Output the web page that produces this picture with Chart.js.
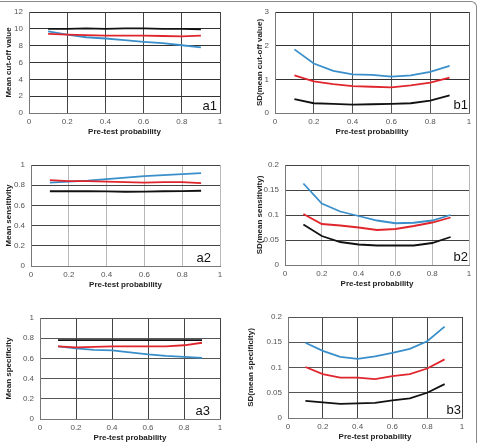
<!DOCTYPE html>
<html>
<head>
<meta charset="utf-8">
<script src="https://cdn.jsdelivr.net/npm/chart.js@4/dist/chart.umd.min.js"></script>
<style>
    html, body { margin: 0; padding: 0; background: #fff; }
    #wrap { position: relative; width: 481px; height: 443px; overflow: hidden; }
    #frame {
        position: absolute; left: -10px; top: 1px; width: 487px; height: 460px;
        border-top: 1px solid #888; border-right: 1px solid #888;
        border-top-right-radius: 6px; box-sizing: border-box;
    }
    canvas { position: absolute; }
</style>
</head>
<body>
<div id="wrap">
    <div id="frame"></div>
</div>
<script>
// Ось X - вероятность до теста
const pretest = [0.1, 0.2, 0.3, 0.4, 0.5, 0.6, 0.7, 0.8, 0.9];

// a1 - средний порог
const a1Black = [10, 10, 10.05, 10, 10.05, 10.05, 10, 10, 9.95];
const a1Red = [9.4, 9.3, 9.25, 9.2, 9.2, 9.2, 9.15, 9.1, 9.2];
const a1Blue = [9.7, 9.3, 9.0, 8.85, 8.65, 8.45, 8.3, 8.05, 7.8];

// b1 - SD порога
const b1Blue = [1.89, 1.47, 1.25, 1.15, 1.13, 1.08, 1.12, 1.22, 1.40];
const b1Red = [1.12, 0.94, 0.86, 0.80, 0.78, 0.76, 0.82, 0.90, 1.05];
const b1Black = [0.41, 0.29, 0.27, 0.25, 0.26, 0.27, 0.29, 0.37, 0.52];

// a2 - средняя чувствительность
const a2Blue = [0.825, 0.835, 0.845, 0.86, 0.875, 0.89, 0.90, 0.91, 0.92];
const a2Red = [0.85, 0.84, 0.84, 0.835, 0.83, 0.825, 0.83, 0.83, 0.82];
const a2Black = [0.74, 0.74, 0.74, 0.738, 0.735, 0.737, 0.74, 0.742, 0.745];

// b2 - SD чувствительности
const b2Blue = [0.163, 0.123, 0.107, 0.098, 0.089, 0.0835, 0.0845, 0.089, 0.1];
const b2Red = [0.102, 0.082, 0.079, 0.075, 0.070, 0.072, 0.078, 0.085, 0.095];
const b2Black = [0.081, 0.058, 0.046, 0.041, 0.039, 0.039, 0.039, 0.044, 0.056];

// a3 - средняя специфичность
const a3Black = [0.78, 0.78, 0.78, 0.78, 0.78, 0.78, 0.78, 0.78, 0.78];
const a3Red = [0.72, 0.71, 0.715, 0.72, 0.72, 0.72, 0.72, 0.73, 0.755];
const a3Blue = [0.72, 0.70, 0.685, 0.68, 0.66, 0.64, 0.625, 0.615, 0.605];

// b3 - SD специфичности
const b3Blue = [0.149, 0.133, 0.121, 0.117, 0.122, 0.129, 0.137, 0.152, 0.181];
const b3Red = [0.101, 0.087, 0.080, 0.080, 0.077, 0.083, 0.087, 0.098, 0.116];
const b3Black = [0.034, 0.031, 0.028, 0.029, 0.030, 0.035, 0.039, 0.050, 0.067];

const xTicks = [0, 0.2, 0.4, 0.6, 0.8, 1];

const BLUE = '#3a8fca';
const RED = '#e0262c';
const BLACK = '#111111';

// Панели: положение холста, область графика, подписи
const panels = [
    { id: 'a1', x: 0, y: 0, w: 240, h: 148, plot: [29, 12, 220, 113], yTitleX: 9, xTitleY: 132,
      label: [217, 110], yTitle: 'Mean cut-off value', yMax: 12, yStep: 2, yDec: 0,
      series: [a1Black, a1Red, a1Blue], xGrid: '#444', yGrid: '#333' },
    { id: 'b1', x: 240, y: 0, w: 241, h: 148, plot: [35, 12, 229, 113], yTitleX: 20, xTitleY: 132,
      label: [228, 109], yTitle: 'SD(mean cut-off value)', yMax: 3, yStep: 1, yDec: 0,
      series: [b1Black, b1Red, b1Blue], xGrid: '#555', yGrid: '#333' },
    { id: 'a2', x: 0, y: 148, w: 240, h: 148, plot: [31, 17, 220, 118], yTitleX: 9, xTitleY: 137,
      label: [211, 114], yTitle: 'Mean sensitivity', yMax: 1, yStep: 0.2, yDec: 1,
      series: [a2Black, a2Red, a2Blue], xGrid: '#b8b8b8', yGrid: '#444' },
    { id: 'b2', x: 240, y: 148, w: 241, h: 148, plot: [45, 17, 229, 117], yTitleX: 20, xTitleY: 136,
      label: [228, 113], yTitle: 'SD(mean sensitivity)', yMax: 0.2, yStep: 0.05, yDec: 2,
      series: [b2Black, b2Red, b2Blue], xGrid: '#b8b8b8', yGrid: '#444' },
    { id: 'a3', x: 0, y: 296, w: 240, h: 147, plot: [40, 22, 220, 123], yTitleX: 9, xTitleY: 142,
      label: [210, 119], yTitle: 'Mean specificity', yMax: 1, yStep: 0.2, yDec: 1,
      series: [a3Black, a3Red, a3Blue], xGrid: '#444', yGrid: '#555' },
    { id: 'b3', x: 240, y: 296, w: 241, h: 147, plot: [48, 21, 222, 122], yTitleX: 11, xTitleY: 141,
      label: [221, 118], yTitle: 'SD(mean specificity)', yMax: 0.2, yStep: 0.05, yDec: 2,
      series: [b3Black, b3Red, b3Blue], xGrid: '#444', yGrid: '#555' }
];

const TITLE_LH = 9.6;

// Подпись панели (a1, b1, ...) в правом нижнем углу
const panelLabel = {
    id: 'panelLabel',
    afterDraw(chart, args, opts) {
        const ctx = chart.ctx;
        ctx.save();
        ctx.font = '13px "Liberation Sans", Arial, sans-serif';
        ctx.fillStyle = '#111';
        ctx.textAlign = 'right';
        ctx.textBaseline = 'alphabetic';
        ctx.fillText(opts.text, opts.x, opts.y);
        ctx.restore();
    }
};

function fmt(v, dec) {
    if (v === 0) return '0';
    if (dec === 0) return String(Math.round(v));
    let s = v.toFixed(dec);
    s = s.replace(/0+$/, '').replace(/\.$/, '');
    return s;
}

const wrap = document.querySelector('#wrap');

panels.forEach(p => {
    const canvas = document.createElement('canvas');
    canvas.style.left = p.x + 'px';
    canvas.style.top = p.y + 'px';
    canvas.style.width = p.w + 'px';
    canvas.style.height = p.h + 'px';
    canvas.width = p.w;
    canvas.height = p.h;
    wrap.appendChild(canvas);

    const [l, t, r, b] = p.plot;
    const padLeft = p.yTitleX - TITLE_LH / 2;
    const axisBottom = p.xTitleY + TITLE_LH / 2;

    const colors = [BLACK, RED, BLUE];
    const datasets = p.series.map((s, i) => ({
        data: s.map((v, k) => ({ x: pretest[k], y: v })),
        borderColor: colors[i],
        backgroundColor: colors[i],
        borderWidth: 1.8,
        pointRadius: 0,
        tension: 0,
        fill: false
    }));

    const yTicks = [];
    for (let v = 0; v <= p.yMax + 1e-9; v += p.yStep) {
        yTicks.push(Math.round(v * 1000) / 1000);
    }

    new Chart(canvas, {
        type: 'line',
        data: { datasets },
        plugins: [panelLabel],
        options: {
            responsive: false,
            animation: false,
            events: [],
            layout: {
                padding: { left: padLeft, top: t, right: p.w - r, bottom: p.h - axisBottom }
            },
            plugins: {
                legend: { display: false },
                tooltip: { enabled: false },
                panelLabel: { text: p.id, x: p.label[0], y: p.label[1] }
            },
            scales: {
                x: {
                    type: 'linear',
                    min: 0,
                    max: 1,
                    afterBuildTicks: sc => { sc.ticks = xTicks.map(v => ({ value: v })); },
                    afterFit: sc => {
                        sc.height = axisBottom - b;
                        sc.paddingLeft = 0;
                        sc.paddingRight = 0;
                    },
                    grid: { color: p.xGrid, lineWidth: 1, drawTicks: false },
                    border: { display: true, color: '#777', width: 1 },
                    ticks: {
                        padding: 4,
                        maxRotation: 0,
                        autoSkip: false,
                        color: '#555',
                        font: { family: '"Liberation Sans", Arial, sans-serif', size: 8 },
                        callback: v => fmt(v, 1)
                    },
                    title: {
                        display: true,
                        text: 'Pre-test probability',
                        color: '#222',
                        padding: 0,
                        font: { family: '"Liberation Sans", Arial, sans-serif', size: 8, weight: 'bold', lineHeight: 1.2 }
                    }
                },
                y: {
                    type: 'linear',
                    min: 0,
                    max: p.yMax,
                    afterBuildTicks: sc => { sc.ticks = yTicks.map(v => ({ value: v })); },
                    afterFit: sc => {
                        sc.width = l - padLeft;
                        sc.paddingTop = 0;
                        sc.paddingBottom = 0;
                    },
                    grid: { color: p.yGrid, lineWidth: 1, drawTicks: false },
                    border: { display: true, color: '#777', width: 1 },
                    ticks: {
                        padding: 6,
                        autoSkip: false,
                        color: '#555',
                        font: { family: '"Liberation Sans", Arial, sans-serif', size: 8 },
                        callback: v => fmt(v, p.yDec)
                    },
                    title: {
                        display: true,
                        text: p.yTitle,
                        color: '#222',
                        padding: 0,
                        font: { family: '"Liberation Sans", Arial, sans-serif', size: 8, weight: 'bold', lineHeight: 1.2 }
                    }
                }
            }
        }
    });
});
</script>
</body>
</html>
